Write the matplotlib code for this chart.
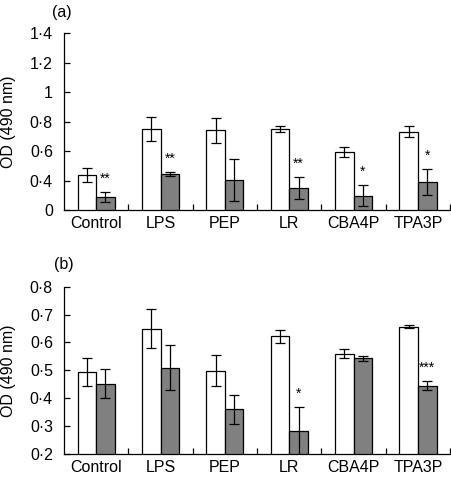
import matplotlib
matplotlib.use("Agg")
import matplotlib.pyplot as plt
import numpy as np

plt.rcParams['font.family'] = ['Liberation Sans', 'DejaVu Sans']

categories = ["Control", "LPS", "PEP", "LR", "CBA4P", "TPA3P"]

# Panel (a) values (axis position 0.2 is labelled "0" in the original)
a_white = [0.438, 0.752, 0.741, 0.750, 0.594, 0.732]
a_white_err = [0.050, 0.082, 0.085, 0.022, 0.035, 0.038]
a_grey = [0.288, 0.444, 0.404, 0.349, 0.297, 0.392]
a_grey_err = [0.036, 0.012, 0.140, 0.075, 0.070, 0.090]
a_sig = ["**", "**", "", "**", "*", "*"]
a_ticks = [0.2, 0.4, 0.6, 0.8, 1.0, 1.2, 1.4]
a_ticklabels = ["0", "0·4", "0·6", "0·8", "1", "1·2", "1·4"]

# Panel (b) values
b_white = [0.494, 0.649, 0.499, 0.622, 0.560, 0.656]
b_white_err = [0.049, 0.070, 0.055, 0.023, 0.017, 0.005]
b_grey = [0.451, 0.509, 0.360, 0.281, 0.543, 0.444]
b_grey_err = [0.052, 0.081, 0.052, 0.088, 0.008, 0.016]
b_sig = ["", "", "", "*", "", "***"]
b_ticks = [0.2, 0.3, 0.4, 0.5, 0.6, 0.7, 0.8]
b_ticklabels = ["0·2", "0·3", "0·4", "0·5", "0·6", "0·7", "0·8"]

fig = plt.figure(figsize=(4.52, 4.84), dpi=100)
ax_a = fig.add_axes([0.1416, 0.566, 0.854, 0.365])
ax_b = fig.add_axes([0.1416, 0.062, 0.854, 0.3457])

bw = 0.29
FS = 11.5

def draw(ax, white, werr, grey, gerr, sig, ticks, ticklabels, ylim, sig_off):
    x = np.arange(len(categories))
    ax.bar(x - bw / 2, white, bw, color="white", edgecolor="black", linewidth=0.9, zorder=2)
    ax.bar(x + bw / 2, grey, bw, color="#808080", edgecolor="black", linewidth=0.9, zorder=2)
    ax.errorbar(x - bw / 2, white, yerr=werr, fmt="none", ecolor="black",
                elinewidth=0.9, capsize=3.5, capthick=0.9, zorder=3)
    ax.errorbar(x + bw / 2, grey, yerr=gerr, fmt="none", ecolor="black",
                elinewidth=0.9, capsize=3.5, capthick=0.9, zorder=3)
    for xi, g, e, s in zip(x, grey, gerr, sig):
        if s:
            ax.annotate(s, (xi + bw / 2, g + e), xytext=(0, sig_off),
                        textcoords="offset points", ha="center", va="bottom",
                        fontsize=10)
    ax.set_xlim(-0.5, len(categories) - 0.5)
    ax.set_ylim(*ylim)
    ax.set_yticks(ticks)
    ax.set_yticklabels(ticklabels, fontsize=FS)
    ax.set_xticks(x)
    ax.set_xticklabels(categories, fontsize=FS)
    ax.set_xticks(np.arange(len(categories)) + 0.5, minor=True)
    ax.tick_params(axis="x", which="major", length=0, pad=4)
    ax.tick_params(axis="x", which="minor", direction="in", length=4, width=0.9)
    ax.tick_params(axis="y", direction="in", length=4, width=0.9, pad=8)
    for side in ("top", "right"):
        ax.spines[side].set_visible(False)
    for side in ("left", "bottom"):
        ax.spines[side].set_linewidth(0.9)
    ax.set_ylabel("OD (490 nm)", fontsize=FS)
    ax.yaxis.set_label_coords(-0.1256, 0.5)

draw(ax_a, a_white, a_white_err, a_grey, a_grey_err, a_sig, a_ticks, a_ticklabels, (0.2, 1.4), 4.5)
draw(ax_b, b_white, b_white_err, b_grey, b_grey_err, b_sig, b_ticks, b_ticklabels, (0.2, 0.8), 4.5)

fig.text(62 / 452, 1 - 13 / 484, "(a)", ha="center", va="center", fontsize=FS)
fig.text(64 / 452, 1 - 265 / 484, "(b)", ha="center", va="center", fontsize=FS)

fig.savefig("out.png", dpi=100)
